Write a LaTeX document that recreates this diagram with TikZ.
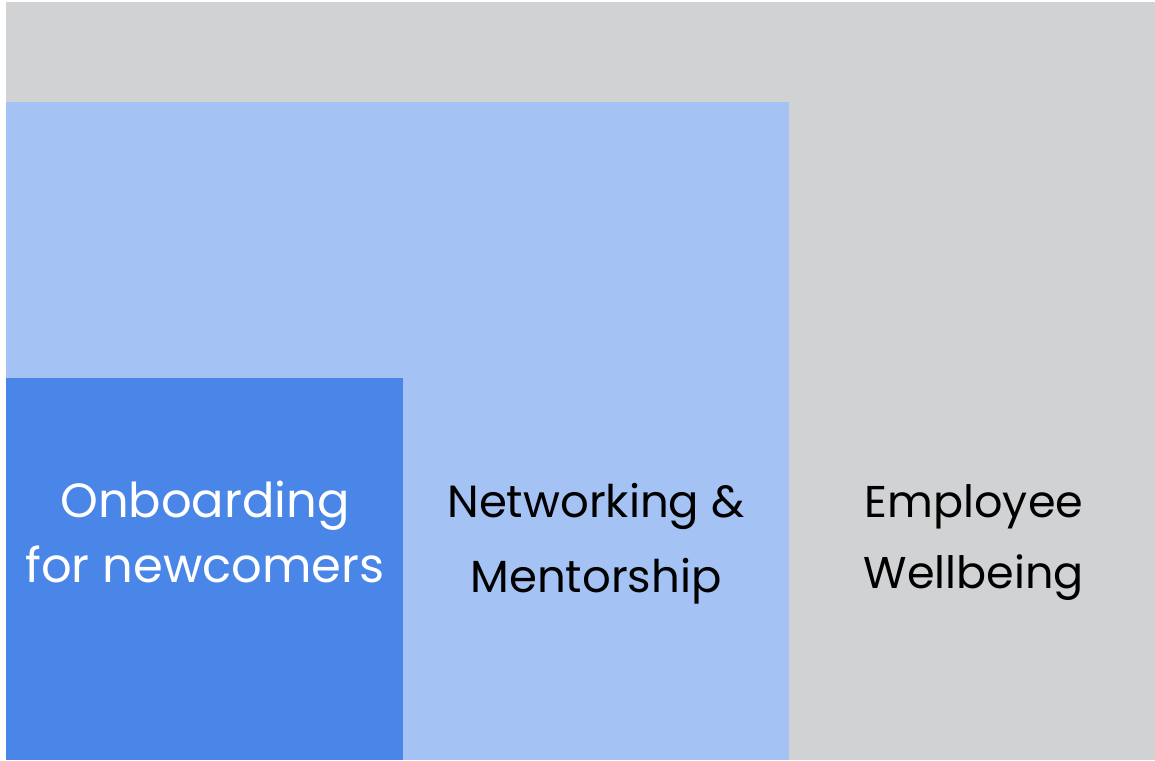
\documentclass[tikz,border=0pt]{standalone}
\usepackage{fontspec}
\setmainfont{Poppins}
\definecolor{greybg}{HTML}{D1D2D4}
\definecolor{lightblue}{HTML}{A4C2F4}
\definecolor{darkblue}{HTML}{4A86E8}
\begin{document}
\begin{tikzpicture}[x=1pt,y=-1pt,
  lbl/.style={anchor=base, align=center, inner sep=0pt}]
\useasboundingbox (0,0) rectangle (1155,760);
\fill[white] (0,0) rectangle (1155,760);
\fill[greybg] (6,2) rectangle (1155,760);
\fill[lightblue] (6,102) rectangle (789,760);
\fill[darkblue] (6,378) rectangle (403,760);
\node[lbl, text=white, font=\fontsize{48}{65}\selectfont] (onb) at (205,582) {Onboarding\\for newcomers};
\node[lbl, text=black, font=\fontsize{45}{75}\selectfont] (net) at (596,592) {Networking \&\\Mentorship};
\node[lbl, text=black, font=\fontsize{44.5}{71}\selectfont] (emp) at (974,588) {Employee\\Wellbeing};
\end{tikzpicture}
\end{document}
